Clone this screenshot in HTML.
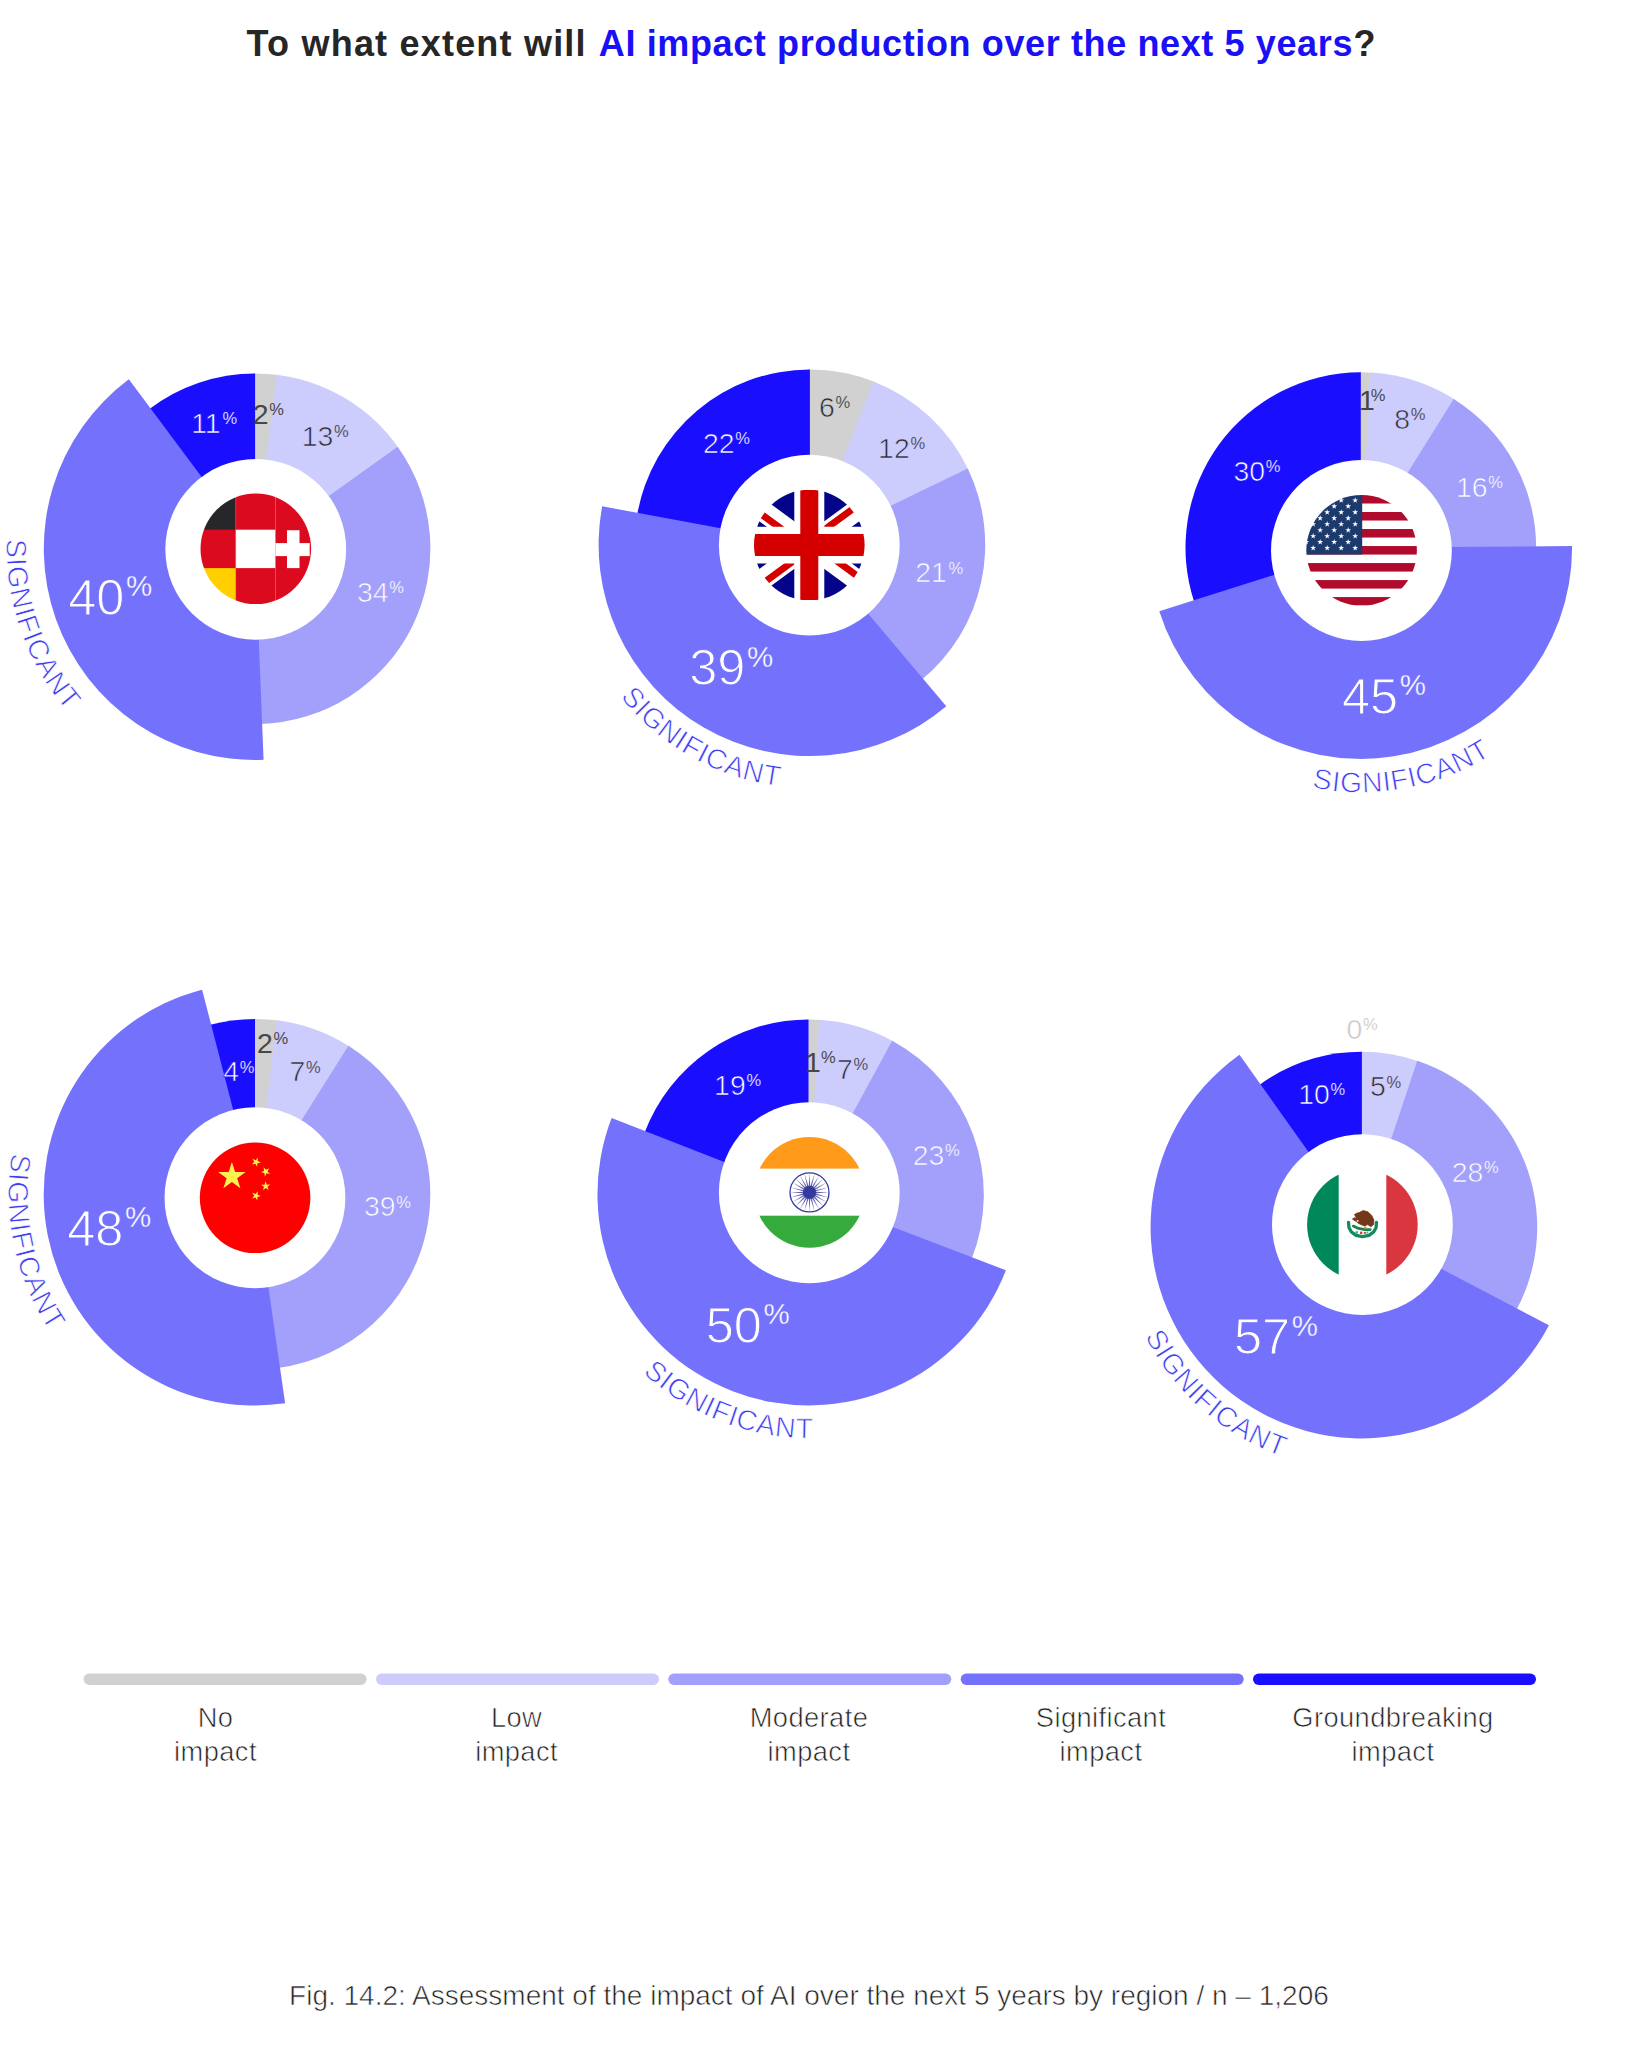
<!DOCTYPE html>
<html lang="en"><head><meta charset="utf-8"><title>AI impact on production</title><style>
html,body{margin:0;padding:0;background:#fff}
body{width:1626px;height:2048px;overflow:hidden}
svg{display:block}
text{font-family:"Liberation Sans",sans-serif}
.s{font-size:28.3px;letter-spacing:.75px;fill:#3c3cf0;stroke:#fff;stroke-width:.75px}
.l{font-size:27.3px;letter-spacing:.4px;fill:#222;stroke:#fff;stroke-width:.65px}
.t{font-size:36px;font-weight:700}
.c{font-size:28px;fill:#222;stroke:#fff;stroke-width:.65px}
</style></head><body>
<svg width="1626" height="2048" viewBox="0 0 1626 2048">
<defs>
<clipPath id="ukt"><path d="M25,15h25v15zv15h-25zh-25v-15zv-15h25z"/></clipPath>
<mask id="fc0" maskUnits="userSpaceOnUse" x="195.8" y="488.79999999999995" width="120" height="120"><circle cx="255.8" cy="548.8" r="55.3" fill="#fff"/></mask>
<path id="tp0" d="M97.37,356.68A248.5,248.5 0 0 0 252.50,797.19"/>
<mask id="fc1" maskUnits="userSpaceOnUse" x="749.3" y="485.1" width="120" height="120"><circle cx="809.3" cy="545.1" r="55.3" fill="#fff"/></mask>
<path id="tp1" d="M569.73,505.90A243.3,243.3 0 0 0 968.88,728.98"/>
<mask id="fc2" maskUnits="userSpaceOnUse" x="1301.6" y="490.29999999999995" width="120" height="120"><circle cx="1361.6" cy="550.3" r="55.3" fill="#fff"/></mask>
<path id="tp2" d="M1149.66,671.48A244.8,244.8 0 0 0 1602.17,588.42"/>
<mask id="fc3" maskUnits="userSpaceOnUse" x="195.1" y="1137.8" width="120" height="120"><circle cx="255.1" cy="1197.8" r="55.3" fill="#fff"/></mask>
<path id="tp3" d="M123.59,985.53A246.6,246.6 0 0 0 221.53,1438.52"/>
<mask id="fc4" maskUnits="userSpaceOnUse" x="749.5" y="1132.4" width="120" height="120"><circle cx="809.5" cy="1192.4" r="55.3" fill="#fff"/></mask>
<path id="tp4" d="M565.23,1190.98A243.3,243.3 0 0 0 992.40,1354.10"/>
<mask id="fc5" maskUnits="userSpaceOnUse" x="1302.4" y="1164.7" width="120" height="120"><circle cx="1362.4" cy="1224.7" r="55.3" fill="#fff"/></mask>
<path id="tp5" d="M1135.53,1139.30A242.8,242.8 0 0 0 1478.87,1439.87"/>
</defs>
<rect width="1626" height="2048" fill="#fff"/>
<g>
<path d="M255.10,548.70L252.96,373.41A175.3,175.3 0 0 1 278.89,375.02Z" fill="#d1d1d1"/>
<path d="M255.10,548.70L276.77,374.74A175.3,175.3 0 0 1 398.87,448.40Z" fill="#cdcdfd"/>
<path d="M255.10,548.70L397.64,446.65A175.3,175.3 0 0 1 259.99,723.93Z" fill="#a2a0fb"/>
<path d="M255.10,548.70L148.63,409.44A175.3,175.3 0 0 1 255.10,373.40Z" fill="#1a0eff"/>
<path d="M255.10,548.70L263.58,759.83A211.3,211.3 0 0 1 128.82,379.28Z" fill="#7472fc"/>
<circle cx="255.75" cy="549.3" r="90.4" fill="#fff"/>
<g mask="url(#fc0)"><rect x="199.50" y="492.50" width="112.6" height="112.6" fill="#dc0a1e"/><rect x="199.50" y="492.50" width="36.30" height="37.20" fill="#27272a"/><rect x="199.50" y="568.10" width="36.30" height="37.00" fill="#ffcf00"/><rect x="235.80" y="529.70" width="39.60" height="38.40" fill="#fff"/><rect x="235.50" y="493.50" width="0.6" height="110.6" fill="#ee7f8b" opacity="0.8"/><rect x="275.10" y="493.50" width="0.6" height="110.6" fill="#ee7f8b" opacity="0.9"/><rect x="287.00" y="530.20" width="12.5" height="37.90" fill="#fff"/><rect x="275.40" y="543.10" width="34.30" height="13" fill="#fff"/></g>
<text x="252.8" y="423.5" font-size="28.4" fill="#474747">2<tspan font-size="16.5" dx="0.7" dy="-8.8">%</tspan></text>
<text x="301.8" y="446.0" font-size="28.4" fill="#2e2e2e" stroke="#cdcdfd" stroke-width="0.7">13<tspan font-size="16.5" dx="0.7" dy="-8.8" stroke-width="0.24">%</tspan></text>
<text x="356.9" y="601.9" font-size="28.4" fill="#fff" stroke="#a2a0fb" stroke-width="0.7">34<tspan font-size="16.5" dx="0.7" dy="-8.8" stroke-width="0.24">%</tspan></text>
<text x="68.2" y="614.5" font-size="50.5" fill="#fff" stroke="#7472fc" stroke-width="1.1">40<tspan font-size="29.5" dx="1.6" dy="-18.6" stroke-width="0.39">%</tspan></text>
<text x="191.2" y="432.7" font-size="28.4" fill="#fff" stroke="#1a0eff" stroke-width="0.7">11<tspan font-size="16.5" dx="1.7" dy="-8.8" stroke-width="0.24">%</tspan></text>
<text class="s" text-anchor="middle"><textPath href="#tp0" startOffset="50%">SIGNIFICANT</textPath></text>
</g>
<g>
<path d="M809.90,544.80L807.76,369.51A175.3,175.3 0 0 1 875.57,382.26Z" fill="#d1d1d1"/>
<path d="M809.90,544.80L873.58,381.47A175.3,175.3 0 0 1 968.65,470.44Z" fill="#cdcdfd"/>
<path d="M809.90,544.80L967.73,468.50A175.3,175.3 0 0 1 921.40,680.07Z" fill="#a2a0fb"/>
<path d="M809.90,544.80L637.16,514.96A175.3,175.3 0 0 1 809.90,369.50Z" fill="#1a0eff"/>
<path d="M809.90,544.80L946.29,706.19A211.3,211.3 0 0 1 602.14,506.29Z" fill="#7472fc"/>
<circle cx="809.3" cy="545.15" r="90.4" fill="#fff"/>
<g mask="url(#fc1)"><g transform="translate(734.30,490.10) scale(3.0,3.667)"><path d="M0,0v30h50v-30z" fill="#04048a"/><path d="M0,0L50,30M50,0L0,30" stroke="#fff" stroke-width="6"/><path d="M0,0L50,30M50,0L0,30" clip-path="url(#ukt)" stroke="#d40000" stroke-width="4"/><path d="M25,0v30M0,15h50" stroke="#fff" stroke-width="10"/><path d="M25,0v30M0,15h50" stroke="#d40000" stroke-width="6"/></g></g>
<text x="819.1" y="417.2" font-size="28.4" fill="#2e2e2e" stroke="#d1d1d1" stroke-width="0.7">6<tspan font-size="16.5" dx="0.7" dy="-8.8" stroke-width="0.24">%</tspan></text>
<text x="878.1" y="457.7" font-size="28.4" fill="#2e2e2e" stroke="#cdcdfd" stroke-width="0.7">12<tspan font-size="16.5" dx="0.7" dy="-8.8" stroke-width="0.24">%</tspan></text>
<text x="915.2" y="582.3" font-size="28.4" fill="#fff" stroke="#a2a0fb" stroke-width="0.7">21<tspan font-size="16.5" dx="1.7" dy="-8.8" stroke-width="0.24">%</tspan></text>
<text x="689.2" y="685.2" font-size="50.5" fill="#fff" stroke="#7472fc" stroke-width="1.1">39<tspan font-size="29.5" dx="1.6" dy="-18.6" stroke-width="0.39">%</tspan></text>
<text x="703.0" y="452.6" font-size="28.4" fill="#fff" stroke="#1a0eff" stroke-width="0.7">22<tspan font-size="16.5" dx="0.7" dy="-8.8" stroke-width="0.24">%</tspan></text>
<text class="s" text-anchor="middle"><textPath href="#tp1" startOffset="50%">SIGNIFICANT</textPath></text>
</g>
<g>
<path d="M1360.80,547.60L1358.66,372.31A175.3,175.3 0 0 1 1373.03,372.73Z" fill="#d1d1d1"/>
<path d="M1360.80,547.60L1370.89,372.59A175.3,175.3 0 0 1 1455.50,400.08Z" fill="#cdcdfd"/>
<path d="M1360.80,547.60L1453.69,398.94A175.3,175.3 0 0 1 1536.10,548.52Z" fill="#a2a0fb"/>
<path d="M1360.80,547.60L1194.27,602.35A175.3,175.3 0 0 1 1360.80,372.30Z" fill="#1a0eff"/>
<path d="M1360.80,547.60L1572.09,546.12A211.3,211.3 0 0 1 1159.28,611.14Z" fill="#7472fc"/>
<circle cx="1361.4" cy="550.5" r="90.4" fill="#fff"/>
<g mask="url(#fc2)"><rect x="1305.30" y="494.00" width="112.6" height="112.6" fill="#fff"/><rect x="1305.30" y="495.00" width="112.6" height="8.51" fill="#b00a2c"/><rect x="1305.30" y="512.02" width="112.6" height="8.51" fill="#b00a2c"/><rect x="1305.30" y="529.03" width="112.6" height="8.51" fill="#b00a2c"/><rect x="1305.30" y="546.05" width="112.6" height="8.51" fill="#b00a2c"/><rect x="1305.30" y="563.06" width="112.6" height="8.51" fill="#b00a2c"/><rect x="1305.30" y="580.08" width="112.6" height="8.51" fill="#b00a2c"/><rect x="1305.30" y="597.09" width="112.6" height="8.51" fill="#b00a2c"/><rect x="1278.14" y="494.00" width="84.06" height="60.55" fill="#1d3a6c"/><polygon points="1341.19,497.26 1341.88,499.40 1344.13,499.40 1342.31,500.72 1343.01,502.86 1341.19,501.54 1339.36,502.86 1340.06,500.72 1338.24,499.40 1340.49,499.40" fill="#fff"/><polygon points="1355.20,497.26 1355.89,499.40 1358.14,499.40 1356.32,500.72 1357.02,502.86 1355.20,501.54 1353.37,502.86 1354.07,500.72 1352.25,499.40 1354.50,499.40" fill="#fff"/><polygon points="1334.18,503.21 1334.88,505.35 1337.13,505.35 1335.31,506.68 1336.00,508.82 1334.18,507.49 1332.36,508.82 1333.06,506.68 1331.23,505.35 1333.49,505.35" fill="#fff"/><polygon points="1348.19,503.21 1348.89,505.35 1351.14,505.35 1349.32,506.68 1350.01,508.82 1348.19,507.49 1346.37,508.82 1347.06,506.68 1345.24,505.35 1347.49,505.35" fill="#fff"/><polygon points="1327.18,509.17 1327.87,511.31 1330.12,511.31 1328.30,512.63 1329.00,514.77 1327.18,513.45 1325.35,514.77 1326.05,512.63 1324.23,511.31 1326.48,511.31" fill="#fff"/><polygon points="1341.19,509.17 1341.88,511.31 1344.13,511.31 1342.31,512.63 1343.01,514.77 1341.19,513.45 1339.36,514.77 1340.06,512.63 1338.24,511.31 1340.49,511.31" fill="#fff"/><polygon points="1355.20,509.17 1355.89,511.31 1358.14,511.31 1356.32,512.63 1357.02,514.77 1355.20,513.45 1353.37,514.77 1354.07,512.63 1352.25,511.31 1354.50,511.31" fill="#fff"/><polygon points="1320.17,515.12 1320.87,517.26 1323.12,517.26 1321.30,518.59 1321.99,520.73 1320.17,519.41 1318.35,520.73 1319.05,518.59 1317.22,517.26 1319.48,517.26" fill="#fff"/><polygon points="1334.18,515.12 1334.88,517.26 1337.13,517.26 1335.31,518.59 1336.00,520.73 1334.18,519.41 1332.36,520.73 1333.06,518.59 1331.23,517.26 1333.49,517.26" fill="#fff"/><polygon points="1348.19,515.12 1348.89,517.26 1351.14,517.26 1349.32,518.59 1350.01,520.73 1348.19,519.41 1346.37,520.73 1347.06,518.59 1345.24,517.26 1347.49,517.26" fill="#fff"/><polygon points="1313.17,521.08 1313.86,523.22 1316.12,523.22 1314.29,524.54 1314.99,526.68 1313.17,525.36 1311.35,526.68 1312.04,524.54 1310.22,523.22 1312.47,523.22" fill="#fff"/><polygon points="1327.18,521.08 1327.87,523.22 1330.12,523.22 1328.30,524.54 1329.00,526.68 1327.18,525.36 1325.35,526.68 1326.05,524.54 1324.23,523.22 1326.48,523.22" fill="#fff"/><polygon points="1341.19,521.08 1341.88,523.22 1344.13,523.22 1342.31,524.54 1343.01,526.68 1341.19,525.36 1339.36,526.68 1340.06,524.54 1338.24,523.22 1340.49,523.22" fill="#fff"/><polygon points="1355.20,521.08 1355.89,523.22 1358.14,523.22 1356.32,524.54 1357.02,526.68 1355.20,525.36 1353.37,526.68 1354.07,524.54 1352.25,523.22 1354.50,523.22" fill="#fff"/><polygon points="1320.17,527.03 1320.87,529.17 1323.12,529.17 1321.30,530.50 1321.99,532.64 1320.17,531.32 1318.35,532.64 1319.05,530.50 1317.22,529.17 1319.48,529.17" fill="#fff"/><polygon points="1334.18,527.03 1334.88,529.17 1337.13,529.17 1335.31,530.50 1336.00,532.64 1334.18,531.32 1332.36,532.64 1333.06,530.50 1331.23,529.17 1333.49,529.17" fill="#fff"/><polygon points="1348.19,527.03 1348.89,529.17 1351.14,529.17 1349.32,530.50 1350.01,532.64 1348.19,531.32 1346.37,532.64 1347.06,530.50 1345.24,529.17 1347.49,529.17" fill="#fff"/><polygon points="1313.17,532.99 1313.86,535.13 1316.12,535.13 1314.29,536.45 1314.99,538.60 1313.17,537.27 1311.35,538.60 1312.04,536.45 1310.22,535.13 1312.47,535.13" fill="#fff"/><polygon points="1327.18,532.99 1327.87,535.13 1330.12,535.13 1328.30,536.45 1329.00,538.60 1327.18,537.27 1325.35,538.60 1326.05,536.45 1324.23,535.13 1326.48,535.13" fill="#fff"/><polygon points="1341.19,532.99 1341.88,535.13 1344.13,535.13 1342.31,536.45 1343.01,538.60 1341.19,537.27 1339.36,538.60 1340.06,536.45 1338.24,535.13 1340.49,535.13" fill="#fff"/><polygon points="1355.20,532.99 1355.89,535.13 1358.14,535.13 1356.32,536.45 1357.02,538.60 1355.20,537.27 1353.37,538.60 1354.07,536.45 1352.25,535.13 1354.50,535.13" fill="#fff"/><polygon points="1306.16,538.94 1306.86,541.09 1309.11,541.09 1307.29,542.41 1307.98,544.55 1306.16,543.23 1304.34,544.55 1305.04,542.41 1303.21,541.09 1305.47,541.09" fill="#fff"/><polygon points="1320.17,538.94 1320.87,541.09 1323.12,541.09 1321.30,542.41 1321.99,544.55 1320.17,543.23 1318.35,544.55 1319.05,542.41 1317.22,541.09 1319.48,541.09" fill="#fff"/><polygon points="1334.18,538.94 1334.88,541.09 1337.13,541.09 1335.31,542.41 1336.00,544.55 1334.18,543.23 1332.36,544.55 1333.06,542.41 1331.23,541.09 1333.49,541.09" fill="#fff"/><polygon points="1348.19,538.94 1348.89,541.09 1351.14,541.09 1349.32,542.41 1350.01,544.55 1348.19,543.23 1346.37,544.55 1347.06,542.41 1345.24,541.09 1347.49,541.09" fill="#fff"/><polygon points="1313.17,544.90 1313.86,547.04 1316.12,547.04 1314.29,548.36 1314.99,550.51 1313.17,549.18 1311.35,550.51 1312.04,548.36 1310.22,547.04 1312.47,547.04" fill="#fff"/><polygon points="1327.18,544.90 1327.87,547.04 1330.12,547.04 1328.30,548.36 1329.00,550.51 1327.18,549.18 1325.35,550.51 1326.05,548.36 1324.23,547.04 1326.48,547.04" fill="#fff"/><polygon points="1341.19,544.90 1341.88,547.04 1344.13,547.04 1342.31,548.36 1343.01,550.51 1341.19,549.18 1339.36,550.51 1340.06,548.36 1338.24,547.04 1340.49,547.04" fill="#fff"/><polygon points="1355.20,544.90 1355.89,547.04 1358.14,547.04 1356.32,548.36 1357.02,550.51 1355.20,549.18 1353.37,550.51 1354.07,548.36 1352.25,547.04 1354.50,547.04" fill="#fff"/></g>
<text x="1359.0" y="409.7" font-size="28.4" fill="#474747">1<tspan font-size="16.5" dx="-4.0" dy="-8.8">%</tspan></text>
<text x="1394.2" y="428.6" font-size="28.4" fill="#2e2e2e" stroke="#cdcdfd" stroke-width="0.7">8<tspan font-size="16.5" dx="0.7" dy="-8.8" stroke-width="0.24">%</tspan></text>
<text x="1456.0" y="496.9" font-size="28.4" fill="#fff" stroke="#a2a0fb" stroke-width="0.7">16<tspan font-size="16.5" dx="0.7" dy="-8.8" stroke-width="0.24">%</tspan></text>
<text x="1342.0" y="713.5" font-size="50.5" fill="#fff" stroke="#7472fc" stroke-width="1.1">45<tspan font-size="29.5" dx="1.6" dy="-18.6" stroke-width="0.39">%</tspan></text>
<text x="1233.4" y="481.2" font-size="28.4" fill="#fff" stroke="#1a0eff" stroke-width="0.7">30<tspan font-size="16.5" dx="0.7" dy="-8.8" stroke-width="0.24">%</tspan></text>
<text class="s" text-anchor="middle"><textPath href="#tp2" startOffset="50%">SIGNIFICANT</textPath></text>
</g>
<g>
<path d="M255.00,1194.20L252.86,1018.91A175.3,175.3 0 0 1 279.09,1020.56Z" fill="#d1d1d1"/>
<path d="M255.00,1194.20L276.97,1020.28A175.3,175.3 0 0 1 350.22,1047.01Z" fill="#cdcdfd"/>
<path d="M255.00,1194.20L348.41,1045.86A175.3,175.3 0 0 1 277.88,1368.00Z" fill="#a2a0fb"/>
<path d="M255.00,1194.20L209.04,1025.03A175.3,175.3 0 0 1 255.00,1018.90Z" fill="#1a0eff"/>
<path d="M255.00,1194.20L285.14,1403.34A211.3,211.3 0 0 1 202.09,989.63Z" fill="#7472fc"/>
<circle cx="254.95" cy="1197.75" r="90.4" fill="#fff"/>
<g mask="url(#fc3)"><rect x="198.80" y="1141.50" width="112.6" height="112.6" fill="#fe0000"/><polygon points="231.90,1162.01 235.15,1172.02 245.68,1172.02 237.16,1178.21 240.42,1188.22 231.90,1182.04 223.38,1188.22 226.64,1178.21 218.12,1172.02 228.65,1172.02" fill="#fbf04e"/><polygon points="251.91,1164.50 254.21,1161.85 252.41,1158.84 255.64,1160.21 257.94,1157.57 257.63,1161.06 260.86,1162.43 257.44,1163.22 257.13,1166.72 255.33,1163.71" fill="#fbf04e"/><polygon points="260.93,1172.35 264.08,1170.81 263.58,1167.33 266.03,1169.85 269.18,1168.31 267.54,1171.41 269.98,1173.93 266.52,1173.33 264.88,1176.43 264.39,1172.95" fill="#fbf04e"/><polygon points="261.07,1184.83 264.57,1184.71 265.54,1181.33 266.74,1184.63 270.25,1184.50 267.48,1186.67 268.69,1189.96 265.78,1188.00 263.01,1190.17 263.98,1186.79" fill="#fbf04e"/><polygon points="252.28,1192.80 255.56,1194.04 257.75,1191.30 257.59,1194.81 260.87,1196.04 257.49,1196.97 257.33,1200.48 255.40,1197.55 252.01,1198.47 254.21,1195.73" fill="#fbf04e"/></g>
<text x="257.0" y="1053.0" font-size="28.4" fill="#474747">2<tspan font-size="16.5" dx="0.7" dy="-8.8">%</tspan></text>
<text x="289.5" y="1081.4" font-size="28.4" fill="#2e2e2e" stroke="#cdcdfd" stroke-width="0.7">7<tspan font-size="16.5" dx="0.7" dy="-8.8" stroke-width="0.24">%</tspan></text>
<text x="363.9" y="1216.3" font-size="28.4" fill="#fff" stroke="#a2a0fb" stroke-width="0.7">39<tspan font-size="16.5" dx="0.7" dy="-8.8" stroke-width="0.24">%</tspan></text>
<text x="67.2" y="1245.6" font-size="50.5" fill="#fff" stroke="#7472fc" stroke-width="1.1">48<tspan font-size="29.5" dx="1.6" dy="-18.6" stroke-width="0.39">%</tspan></text>
<text x="223.3" y="1081.4" font-size="28.4" fill="#fff" stroke="#1a0eff" stroke-width="0.7">4<tspan font-size="16.5" dx="0.7" dy="-8.8" stroke-width="0.24">%</tspan></text>
<text class="s" text-anchor="middle"><textPath href="#tp3" startOffset="50%">SIGNIFICANT</textPath></text>
</g>
<g>
<path d="M808.50,1194.80L806.36,1019.51A175.3,175.3 0 0 1 821.34,1019.97Z" fill="#d1d1d1"/>
<path d="M808.50,1194.80L819.20,1019.83A175.3,175.3 0 0 1 894.02,1041.78Z" fill="#cdcdfd"/>
<path d="M808.50,1194.80L892.15,1040.74A175.3,175.3 0 0 1 971.49,1259.33Z" fill="#a2a0fb"/>
<path d="M808.50,1194.80L644.41,1133.12A175.3,175.3 0 0 1 808.50,1019.50Z" fill="#1a0eff"/>
<path d="M808.50,1194.80L1005.90,1270.18A211.3,211.3 0 1 1 611.63,1118.05Z" fill="#7472fc"/>
<circle cx="809.3" cy="1192.75" r="90.4" fill="#fff"/>
<g mask="url(#fc4)"><rect x="753.20" y="1136.10" width="112.6" height="112.6" fill="#fff"/><rect x="753.20" y="1136.10" width="112.6" height="32.50" fill="#ff9a1a"/><rect x="753.20" y="1215.70" width="112.6" height="33.00" fill="#37aa3e"/></g><circle cx="809.50" cy="1192.40" r="19.5" fill="none" stroke="#343a9c" stroke-width="1.3"/><circle cx="809.50" cy="1192.40" r="6.6" fill="#343a9c"/><polygon points="808.77,1186.44 809.50,1173.00 810.23,1186.44" fill="#343a9c" opacity="0.8"/><polygon points="810.34,1186.46 814.52,1173.66 811.75,1186.84" fill="#343a9c" opacity="0.8"/><polygon points="811.84,1186.88 819.20,1175.60 813.11,1187.61" fill="#343a9c" opacity="0.8"/><polygon points="813.19,1187.67 823.22,1178.68 814.23,1188.71" fill="#343a9c" opacity="0.8"/><polygon points="814.29,1188.79 826.30,1182.70 815.02,1190.06" fill="#343a9c" opacity="0.8"/><polygon points="815.06,1190.15 828.24,1187.38 815.44,1191.56" fill="#343a9c" opacity="0.8"/><polygon points="815.46,1191.67 828.90,1192.40 815.46,1193.13" fill="#343a9c" opacity="0.8"/><polygon points="815.44,1193.24 828.24,1197.42 815.06,1194.65" fill="#343a9c" opacity="0.8"/><polygon points="815.02,1194.74 826.30,1202.10 814.29,1196.01" fill="#343a9c" opacity="0.8"/><polygon points="814.23,1196.09 823.22,1206.12 813.19,1197.13" fill="#343a9c" opacity="0.8"/><polygon points="813.11,1197.19 819.20,1209.20 811.84,1197.92" fill="#343a9c" opacity="0.8"/><polygon points="811.75,1197.96 814.52,1211.14 810.34,1198.34" fill="#343a9c" opacity="0.8"/><polygon points="810.23,1198.36 809.50,1211.80 808.77,1198.36" fill="#343a9c" opacity="0.8"/><polygon points="808.66,1198.34 804.48,1211.14 807.25,1197.96" fill="#343a9c" opacity="0.8"/><polygon points="807.16,1197.92 799.80,1209.20 805.89,1197.19" fill="#343a9c" opacity="0.8"/><polygon points="805.81,1197.13 795.78,1206.12 804.77,1196.09" fill="#343a9c" opacity="0.8"/><polygon points="804.71,1196.01 792.70,1202.10 803.98,1194.74" fill="#343a9c" opacity="0.8"/><polygon points="803.94,1194.65 790.76,1197.42 803.56,1193.24" fill="#343a9c" opacity="0.8"/><polygon points="803.54,1193.13 790.10,1192.40 803.54,1191.67" fill="#343a9c" opacity="0.8"/><polygon points="803.56,1191.56 790.76,1187.38 803.94,1190.15" fill="#343a9c" opacity="0.8"/><polygon points="803.98,1190.06 792.70,1182.70 804.71,1188.79" fill="#343a9c" opacity="0.8"/><polygon points="804.77,1188.71 795.78,1178.68 805.81,1187.67" fill="#343a9c" opacity="0.8"/><polygon points="805.89,1187.61 799.80,1175.60 807.16,1186.88" fill="#343a9c" opacity="0.8"/><polygon points="807.25,1186.84 804.48,1173.66 808.66,1186.46" fill="#343a9c" opacity="0.8"/>
<text x="805.1" y="1072.0" font-size="28.4" fill="#474747">1<tspan font-size="16.5" dx="0.19999999999999996" dy="-8.8">%</tspan></text>
<text x="836.9" y="1079.0" font-size="28.4" fill="#2e2e2e" stroke="#cdcdfd" stroke-width="0.7">7<tspan font-size="16.5" dx="0.7" dy="-8.8" stroke-width="0.24">%</tspan></text>
<text x="912.8" y="1165.0" font-size="28.4" fill="#fff" stroke="#a2a0fb" stroke-width="0.7">23<tspan font-size="16.5" dx="0.7" dy="-8.8" stroke-width="0.24">%</tspan></text>
<text x="705.7" y="1342.5" font-size="50.5" fill="#fff" stroke="#7472fc" stroke-width="1.1">50<tspan font-size="29.5" dx="1.6" dy="-18.6" stroke-width="0.39">%</tspan></text>
<text x="714.1" y="1094.5" font-size="28.4" fill="#fff" stroke="#1a0eff" stroke-width="0.7">19<tspan font-size="16.5" dx="0.7" dy="-8.8" stroke-width="0.24">%</tspan></text>
<text class="s" text-anchor="middle"><textPath href="#tp4" startOffset="50%">SIGNIFICANT</textPath></text>
</g>
<g>
<path d="M1361.90,1227.10L1359.76,1051.81A175.3,175.3 0 0 1 1419.26,1061.45Z" fill="#cdcdfd"/>
<path d="M1361.90,1227.10L1417.23,1060.76A175.3,175.3 0 0 1 1516.10,1310.48Z" fill="#a2a0fb"/>
<path d="M1361.90,1227.10L1258.61,1085.46A175.3,175.3 0 0 1 1361.90,1051.80Z" fill="#1a0eff"/>
<path d="M1361.90,1227.10L1548.98,1325.32A211.3,211.3 0 1 1 1239.50,1054.86Z" fill="#7472fc"/>
<circle cx="1362.4" cy="1224.6" r="90.4" fill="#fff"/>
<g mask="url(#fc5)"><rect x="1306.10" y="1168.40" width="112.6" height="112.6" fill="#fff"/><rect x="1306.10" y="1168.40" width="32.60" height="112.6" fill="#00885a"/><rect x="1386.30" y="1168.40" width="32.40" height="112.6" fill="#d9363f"/></g><polyline points="1348.50,1222.30 1349.00,1227.70 1351.45,1232.00 1356.10,1235.40 1362.50,1236.70 1369.00,1235.40 1373.60,1232.00 1376.05,1227.70 1376.50,1222.30" fill="none" stroke="#14895a" stroke-width="3.3" stroke-linejoin="round" stroke-linecap="round"/><polyline points="1353.30,1226.10 1356.90,1227.80 1360.10,1228.70 1364.90,1229.60 1370.20,1229.60" fill="none" stroke="#16854f" stroke-width="2.8" stroke-linejoin="round" stroke-linecap="round"/><rect x="1355.40" y="1231.30" width="2.6" height="2.2" fill="#3aa3b8"/><rect x="1360.10" y="1231.60" width="2.2" height="2.4" fill="#d23a26"/><rect x="1363.80" y="1231.90" width="2" height="2" fill="#cf3c6c"/><rect x="1366.30" y="1231.50" width="2" height="2" fill="#6aa7a0"/><rect x="1364.00" y="1226.90" width="2.6" height="1.8" fill="#d6962a"/><polygon points="1354.50,1214.50 1356.70,1213.20 1359.40,1212.50 1363.10,1210.60 1367.70,1211.70 1371.70,1215.40 1373.90,1220.00 1373.60,1224.60 1370.80,1226.70 1367.70,1224.60 1364.70,1226.10 1361.00,1224.60 1358.50,1223.40 1356.10,1221.50 1352.40,1219.10 1354.20,1217.80 1356.70,1218.50 1355.50,1216.60" fill="#73371a" stroke="#73371a" stroke-width="0.8" stroke-linejoin="round"/><circle cx="1357.60" cy="1221.10" r="1" fill="#fff" opacity="0.85"/>
<text x="1346.5" y="1038.8" font-size="28.4" fill="#c8c8c8" stroke="#fff" stroke-width="0.5">0<tspan font-size="16.5" dx="0.7" dy="-8.8" stroke-width="0.17">%</tspan></text>
<text x="1370.1" y="1096.3" font-size="28.4" fill="#2e2e2e" stroke="#cdcdfd" stroke-width="0.7">5<tspan font-size="16.5" dx="0.7" dy="-8.8" stroke-width="0.24">%</tspan></text>
<text x="1451.7" y="1181.9" font-size="28.4" fill="#fff" stroke="#a2a0fb" stroke-width="0.7">28<tspan font-size="16.5" dx="0.7" dy="-8.8" stroke-width="0.24">%</tspan></text>
<text x="1234.0" y="1354.2" font-size="50.5" fill="#fff" stroke="#7472fc" stroke-width="1.1">57<tspan font-size="29.5" dx="1.6" dy="-18.6" stroke-width="0.39">%</tspan></text>
<text x="1298.2" y="1103.7" font-size="28.4" fill="#fff" stroke="#1a0eff" stroke-width="0.7">10<tspan font-size="16.5" dx="0.7" dy="-8.8" stroke-width="0.24">%</tspan></text>
<text class="s" text-anchor="middle"><textPath href="#tp5" startOffset="50%">SIGNIFICANT</textPath></text>
</g>
<rect x="83.6" y="1673.6" width="283" height="11.4" rx="5.7" fill="#d1d1d1"/>
<text class="l" x="215.5" y="1726.6" text-anchor="middle">No</text>
<text class="l" x="215.5" y="1760.8" text-anchor="middle">impact</text>
<rect x="376.0" y="1673.6" width="283" height="11.4" rx="5.7" fill="#cdcdfd"/>
<text class="l" x="516.6" y="1726.6" text-anchor="middle">Low</text>
<text class="l" x="516.6" y="1760.8" text-anchor="middle">impact</text>
<rect x="668.3" y="1673.6" width="283" height="11.4" rx="5.7" fill="#a2a0fb"/>
<text class="l" x="809" y="1726.6" text-anchor="middle">Moderate</text>
<text class="l" x="809" y="1760.8" text-anchor="middle">impact</text>
<rect x="960.7" y="1673.6" width="283" height="11.4" rx="5.7" fill="#7472fc"/>
<text class="l" x="1101" y="1726.6" text-anchor="middle">Significant</text>
<text class="l" x="1101" y="1760.8" text-anchor="middle">impact</text>
<rect x="1253.0" y="1673.6" width="283" height="11.4" rx="5.7" fill="#1a0eff"/>
<text class="l" x="1393" y="1726.6" text-anchor="middle">Groundbreaking</text>
<text class="l" x="1393" y="1760.8" text-anchor="middle">impact</text>
<text class="t" y="56.2"><tspan x="246.6" fill="#262626" letter-spacing="1.2">To what extent will </tspan><tspan x="598.8" fill="#1a10f5" letter-spacing=".62">AI impact production over the next 5 years</tspan><tspan x="1353.4" fill="#262626">?</tspan></text>
<text class="c" x="289.1" y="2005.2">Fig. 14.2: Assessment of the impact of AI over the next 5 years by region / n – 1,206</text>
</svg>
</body></html>
